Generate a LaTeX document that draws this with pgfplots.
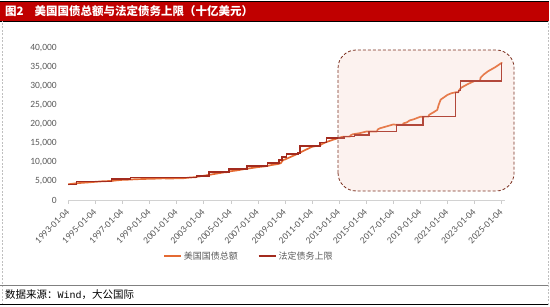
\documentclass[border=0pt]{standalone}
\usepackage{pgfplots}
\pgfplotsset{compat=1.18}
\usepackage{fontspec}
\setmainfont{Carlito}
\newfontfamily\cjk{Noto Sans CJK SC}
\newfontfamily\monof{Liberation Mono}
\definecolor{debt}{HTML}{E46A33}
\definecolor{ceil}{HTML}{A32B1E}
\definecolor{titlered}{HTML}{C00000}
\definecolor{tickgray}{HTML}{595959}
\definecolor{boxfill}{HTML}{F2BFB0}
\definecolor{boxedge}{HTML}{7B3020}

\pgfplotstableread{
x y
1993.0 4150
1993.5 4380
1994.0 4530
1994.5 4650
1995.0 4800
1995.5 4930
1995.9 4990
1996.2 5020
1996.5 5160
1997.0 5320
1997.5 5380
1998.0 5490
1998.5 5530
1999.0 5610
1999.5 5640
2000.0 5720
2000.5 5660
2001.0 5730
2001.5 5750
2002.0 5940
2002.4 6020
2002.5 6130
2003.0 6400
2003.5 6700
2004.0 7000
2004.5 7290
2004.8 7380
2004.9 7590
2005.0 7600
2005.5 7840
2006.0 8170
2006.2 8270
2006.5 8420
2007.0 8680
2007.5 8880
2007.7 9000
2008.0 9230
2008.5 9500
2008.7 9750
2008.8 10300
2008.9 10600
2009.0 10700
2009.5 11500
2010.0 12310
2010.5 13200
2011.0 14050
2011.35 14290
2011.6 14294
2011.65 14640
2012.0 15220
2012.5 15850
2013.0 16430
2013.3 16730
2013.8 16740
2013.85 17080
2014.0 17350
2014.5 17630
2015.0 18080
2015.2 18110
2015.8 18110
2015.85 18630
2016.0 18920
2016.5 19430
2017.0 19950
2017.2 19850
2017.7 19840
2017.75 20240
2018.0 20490
2018.2 21000
2018.5 21300
2019.0 21980
2019.2 22000
2019.6 22020
2019.65 22500
2020.0 23220
2020.25 23800
2020.35 25100
2020.5 26500
2021.0 27750
2021.3 28200
2021.6 28430
2021.8 28430
2021.85 28900
2022.0 29620
2022.5 30600
2023.0 31420
2023.4 31460
2023.45 32300
2023.7 33200
2024.0 34000
2024.5 35000
2025.0 36200
2025.05 36200
}\debttable

\pgfplotstableread{
x y
1993.0 4145
1993.6 4145
1993.6 4900
1996.2 4900
1996.2 5500
1997.6 5500
1997.6 5950
2002.45 5950
2002.45 6400
2003.4 6400
2003.4 7384
2004.88 7384
2004.88 8184
2006.2 8184
2006.2 8965
2007.72 8965
2007.72 9815
2008.55 9815
2008.55 10615
2008.8 10615
2008.8 11315
2009.12 11315
2009.12 12104
2009.95 12104
2009.95 12394
2010.12 12394
2010.12 14294
2011.6 14294
2011.6 15194
2012.05 15194
2012.05 16394
2013.35 16394
2013.35 16699
2014.12 16699
2014.12 17212
2015.2 17212
2015.2 18113
2017.25 18113
2017.25 19809
2019.2 19809
2019.2 21988
2021.6 21988
2021.6 28401
2021.8 28401
2021.8 28881
2021.95 28881
2021.95 31381
2025.0 31381
2025.0 36100
}\ceiltable

\begin{document}
\begin{tikzpicture}[x=1pt,y=1pt]
\path[use as bounding box] (0,0) rectangle (550,307);
% title bar
\fill[titlered] (0,286) rectangle (549,306);
\draw[black,line width=0.8pt] (0,306) -- (549,306);
\draw[black,line width=0.8pt] (0,286) -- (549,286);
\node[anchor=west,text=white,inner sep=0pt,font=\cjk\bfseries\fontsize{11.5}{12}\selectfont] at (5,296) {图2\hspace{11pt}美国国债总额与法定债务上限（十亿美元）};
% side borders
\draw[gray!50,dash pattern=on 2pt off 1.5pt,line width=0.6pt] (2,2) -- (2,286);
\draw[gray!50,dash pattern=on 2pt off 1.5pt,line width=0.6pt] (548,2) -- (548,286);
% footer
\draw[gray,line width=0.8pt] (0,22) -- (548,22);
\draw[black,line width=1pt] (0,2) -- (548,2);
\node[anchor=west,inner sep=0pt,font=\cjk\fontsize{10.5}{12}\selectfont] at (5,12) {数据来源：{\monof\fontsize{10}{12}\selectfont Wind}，大公国际};

\begin{axis}[
  at={(68.3pt,107pt)}, anchor=south west,
  scale only axis, width=436.7pt, height=151.5pt,
  xmin=1993, xmax=2025.25, ymin=0, ymax=40000,
  axis line style={draw=none},
  clip=false,
  xtick={1993,1995,...,2025},
  xticklabels={1993-01-04,1995-01-04,1997-01-04,1999-01-04,2001-01-04,2003-01-04,2005-01-04,2007-01-04,2009-01-04,2011-01-04,2013-01-04,2015-01-04,2017-01-04,2019-01-04,2021-01-04,2023-01-04,2025-01-04},
  xtick pos=bottom, tick align=outside, major tick length=4pt,
  xtick style={draw=gray!40,line width=0.5pt},
  ytick={0,5000,...,40000},
  ytick style={draw=none},
  scaled y ticks=false,
  /pgf/number format/1000 sep={,},
  /pgf/number format/assume math mode=true,
  ticklabel style={font=\fontsize{9.5}{10}\selectfont,text=tickgray},
  yticklabel style={xshift=-4pt},
  xticklabel style={xshift=2pt,yshift=-4pt,rotate=45,anchor=east},
  legend style={at={(0.21,-0.37)},anchor=west,draw=none,fill=none,
    legend columns=2,font=\cjk\fontsize{9}{10}\selectfont,text=tickgray,
    /tikz/every even column/.append style={column sep=18pt}},
]
\draw[gray!35,line width=0.6pt] (axis cs:1993,0) -- (axis cs:2025.25,0);
\addplot[debt,line width=1.7pt,line join=round] table {\debttable};
\addlegendentry{美国国债总额}
\addplot[ceil,line width=1.5pt,line join=miter] table {\ceiltable};
\addlegendentry{法定债务上限}
\draw[boxedge,dash pattern=on 3pt off 2pt,line width=0.8pt,fill=boxfill,fill opacity=0.2,rounded corners=18pt]
  (axis cs:2012.92,2380) rectangle (axis cs:2025.92,39600);
\end{axis}
\end{tikzpicture}
\end{document}
